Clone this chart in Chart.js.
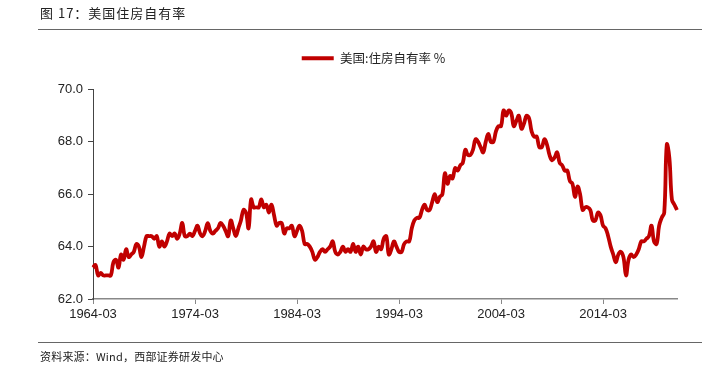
<!DOCTYPE html>
<html>
<head>
<meta charset="utf-8">
<script src="https://cdn.jsdelivr.net/npm/chart.js@4.4.0/dist/chart.umd.min.js"></script>
<style>
  body { margin: 0; background: #fff; }
  #wrap { position: relative; width: 708px; height: 371px; font-family: "Noto Sans CJK SC", sans-serif; color: #222; }
  .title { position: absolute; left: 40px; top: 3px; font-size: 13px; letter-spacing: 1px; }
  .rule { position: absolute; left: 38px; right: 6px; border-top: 1.5px solid #666; }
  .source { position: absolute; left: 40px; top: 348px; font-size: 11px; letter-spacing: 0.2px; }
  canvas { position: absolute; left: 0; top: 0; }
</style>
</head>
<body>
<div id="wrap">
  <canvas id="chart-canvas" width="708" height="371"></canvas>
  <div class="title">图 17：美国住房自有率</div>
  <div class="rule" style="top:29px"></div>
  <div class="rule" style="top:342px"></div>
  <div class="source">资料来源：Wind，西部证券研发中心</div>
</div>
<script>
// quarterly, 1964-03 .. 2021-06 (one row per year)
const ownershipRate = [
  63.2, 63.3, 62.9, 63.0,
  62.9, 62.9, 62.9, 62.9,
  63.4, 63.5, 63.2, 63.7,
  63.5, 63.9, 63.6, 63.7,
  63.8, 64.1, 64.0, 63.6,
  64.0, 64.4, 64.4, 64.4,
  64.3, 64.4, 64.0, 64.2,
  64.0, 64.2, 64.5, 64.4,
  64.5, 64.3, 64.5, 64.9,
  64.4, 64.4, 64.5, 64.4,
  64.6, 64.8, 64.5, 64.4,
  64.6, 64.9, 64.6, 64.5,
  64.6, 64.7, 64.9, 64.8,
  64.6, 64.4, 65.0, 64.7,
  64.4, 64.7, 65.0, 65.4,
  65.3, 64.7, 65.8, 65.5,
  65.5, 65.5, 65.8, 65.5,
  65.6, 65.3, 65.6, 65.2,
  64.8, 64.9, 64.9, 64.5,
  64.7, 64.7, 64.8, 64.4,
  64.6, 64.8, 64.6, 64.1,
  64.1, 64.0, 63.8, 63.5,
  63.6, 63.8, 63.9, 63.8,
  63.9, 64.0, 64.2, 63.8,
  63.7, 63.8, 64.0, 63.8,
  63.9, 63.8, 64.1, 63.8,
  64.0, 63.7, 64.0, 63.9,
  63.9, 64.0, 64.2, 63.8,
  64.0, 63.9, 64.3, 64.4,
  63.7, 63.9, 64.2, 64.0,
  63.8, 63.8, 64.1, 64.2,
  64.2, 64.7, 65.0, 65.1,
  65.1, 65.4, 65.6, 65.4,
  65.4, 65.7, 66.0, 65.7,
  65.9, 66.0, 66.8, 66.4,
  66.7, 66.6, 67.0, 66.9,
  67.1, 67.2, 67.7, 67.5,
  67.5, 67.7, 68.1, 68.0,
  67.8, 67.6, 68.0, 68.3,
  68.0, 68.0, 68.4, 68.6,
  68.6, 69.2, 69.0, 69.2,
  69.1, 68.6, 68.8, 69.0,
  68.5, 68.7, 69.0, 68.9,
  68.4, 68.2, 68.2, 67.8,
  67.8, 68.1, 67.9, 67.5,
  67.3, 67.4, 67.6, 67.2,
  67.1, 66.9, 66.9, 66.5,
  66.4, 65.9, 66.3, 66.0,
  65.4, 65.5, 65.5, 65.4,
  65.0, 65.0, 65.3, 65.2,
  64.8, 64.7, 64.4, 64.0,
  63.7, 63.4, 63.7, 63.8,
  63.6, 62.9, 63.5, 63.7,
  63.6, 63.7, 63.9, 64.2,
  64.2, 64.3, 64.4, 64.8,
  64.2, 64.1, 64.8, 65.1,
  65.3, 67.9, 67.4, 65.8,
  65.6, 65.4
]

const firstYear = 1964
const monthEnds = ['03', '06', '09', '12']
const xTickLabels = ['1964-03', '1974-03', '1984-03', '1994-03', '2004-03', '2014-03']
const yTicks = [62, 64, 66, 68, 70]
const seriesName = '美国:住房自有率 %'

const quarters = ownershipRate.map((v, i) => (firstYear + Math.floor(i / 4)) + '-' + monthEnds[i % 4])

const tickFont = { family: '"Liberation Sans", Arial, sans-serif', size: 13 }

// more room under the legend, and legend nudged right over the plot
const legendTweak = {
  id: 'legendTweak',
  beforeInit(chart) {
    const fit = chart.legend.fit
    chart.legend.fit = function () {
      fit.bind(chart.legend)()
      this.height += 15
    }
  },
  afterLayout(chart) {
    chart.legend.left += 35
    chart.legend.right += 35
  }
}

const ctx = document.querySelector('#chart-canvas')
const chart = new Chart(ctx, {
  type: 'line',
  data: {
    labels: quarters,
    datasets: [{
      label: seriesName,
      data: ownershipRate,
      borderColor: '#C00000',
      backgroundColor: '#C00000',
      borderWidth: 3.8,
      pointRadius: 0,
      tension: 0.4,
      fill: false
    }]
  },
  plugins: [legendTweak],
  options: {
    responsive: false,
    animation: false,
    layout: { padding: { top: 42, right: 31, bottom: 42, left: 0 } },
    plugins: {
      tooltip: { enabled: false },
      legend: {
        labels: {
          usePointStyle: true,
          pointStyle: 'line',
          pointStyleWidth: 32,
          padding: 10,
          color: '#222',
          font: { family: '"Noto Sans CJK SC", sans-serif', size: 12.5 }
        }
      }
    },
    scales: {
      x: {
        afterFit: scale => { scale.height = 30 },
        border: { color: '#888', width: 1.5 },
        grid: {
          drawOnChartArea: false,
          tickLength: 5,
          color: c => xTickLabels.includes(quarters[c.index]) ? '#888' : 'rgba(0,0,0,0)'
        },
        ticks: {
          autoSkip: false,
          maxRotation: 0,
          padding: 3,
          color: '#222',
          font: tickFont,
          callback: (v, i) => xTickLabels.includes(quarters[i]) ? quarters[i] : ''
        }
      },
      y: {
        min: yTicks[0],
        max: yTicks[yTicks.length - 1],
        afterFit: scale => { scale.width = 93 },
        afterBuildTicks: scale => { scale.ticks = yTicks.map(v => ({ value: v })) },
        border: { color: '#444', width: 1 },
        grid: { drawOnChartArea: false, tickLength: 5, color: '#444' },
        ticks: {
          padding: 5,
          color: '#222',
          font: tickFont,
          callback: v => v.toFixed(1)
        }
      }
    }
  }
})
</script>
</body>
</html>
